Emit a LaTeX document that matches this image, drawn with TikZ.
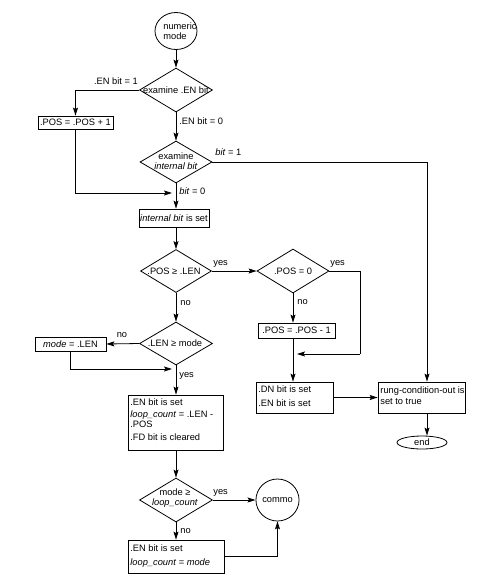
\documentclass[tikz,border=0pt]{standalone}
\usepackage{fontspec}
\setmainfont{Liberation Sans}
\usetikzlibrary{shapes.geometric,arrows.meta}
\begin{document}
\begin{tikzpicture}[x=1pt,y=-1pt,line width=0.8pt,
  every node/.style={font=\fontsize{9.3}{10}\selectfont, inner sep=0pt},
  box/.style={draw, rectangle},
  dia/.style={draw, diamond},
  rnd/.style={draw, ellipse},
  txt/.style={draw=none},
  lbl/.style={draw=none},
  arr/.style={-{Stealth[length=8pt,width=5pt,inset=1.5pt]}}
]
\useasboundingbox (0,0) rectangle (486,576);
\fill[white] (0,0) rectangle (486,576);

% nodes
\node[rnd, minimum width=42, minimum height=37] (start) at (176,31) {};
\node[txt, align=left, anchor=west] (startt) at (163,31) {numeric\\mode};

\node[dia, minimum width=73, minimum height=44] (d1) at (176,90) {};
\node[txt] (d1t) at (176,90) {examine .EN bit};

\node[box, minimum width=75, minimum height=13] (p1) at (75.5,122.5) {.POS = .POS + 1};

\node[dia, minimum width=72, minimum height=42] (d2) at (176,162) {};
\node[txt, align=center] (d2t) at (176,161) {examine\\\textit{internal bit}};

\node[box, minimum width=70, minimum height=18] (ib) at (174,218) {\textit{internal bit} is set};

\node[dia, minimum width=71, minimum height=43] (d3) at (176,271) {};
\node[txt] (d3t) at (174,271) {.POS ≥ .LEN};

\node[dia, minimum width=72, minimum height=44] (d4) at (293,271) {};
\node[txt] (d4t) at (293,271) {.POS = 0};

\node[box, minimum width=77, minimum height=15] (pm) at (296.5,330.5) {.POS = .POS - 1};

\node[box, minimum width=77, minimum height=31] (dn) at (294.5,397.5) {};
\node[txt, anchor=base west] (dn1) at (258,392) {.DN bit is set};
\node[txt, anchor=base west] (dn2) at (258,406.5) {.EN bit is set};

\node[box, minimum width=87, minimum height=31] (rung) at (421.5,397.5) {};
\node[txt, anchor=base west] (r1) at (380,393) {rung-condition-out is};
\node[txt, anchor=base west] (r2) at (380,404) {set to true};

\node[rnd, minimum width=50, minimum height=13] (endn) at (422,442.5) {end};

\node[dia, minimum width=73, minimum height=43] (d5) at (176,343.5) {};
\node[txt] (d5t) at (175,343.5) {.LEN ≥ mode};

\node[box, minimum width=71, minimum height=14] (ml) at (70.5,344) {\textit{mode} = .LEN};

\node[box, minimum width=95, minimum height=55] (en) at (175.5,422.5) {};
\node[txt, anchor=base west] (en1) at (130,405.5) {.EN bit is set};
\node[txt, anchor=base west] (en2) at (130,417) {\textit{loop\_count} = .LEN -};
\node[txt, anchor=base west] (en3) at (130,427.5) {.POS};
\node[txt, anchor=base west] (en4) at (130,440.5) {.FD bit is cleared};

\node[dia, minimum width=73, minimum height=44] (d6) at (176,500) {};
\node[txt, align=center] (d6t) at (175,498) {mode ≥\\\textit{loop\_count}};

\node[rnd, minimum width=43, minimum height=42] (commo) at (277.5,500) {commo};

\node[box, minimum width=96, minimum height=33] (eb) at (176,556.5) {};
\node[txt, anchor=base west] (eb1) at (130,551.5) {.EN bit is set};
\node[txt, anchor=base west] (eb2) at (130,565.5) {\textit{loop\_count} = \textit{mode}};

% coordinates
\coordinate (m1) at (172,193);
\coordinate (rc) at (427,162);
\coordinate (c4) at (360,271);
\coordinate (c5) at (360,354);
\coordinate (c6) at (297,354);
\coordinate (m2) at (172,369);

% connectors
\draw[arr] (start) -- (d1);
\draw[arr] (d1.west) -| (p1.north);
\node[lbl] (l1) at (116,81) {.EN bit = 1};
\draw[arr] (d1.south) -- (d2.north);
\node[lbl, anchor=west] (l2) at (179,121) {.EN bit = 0};
\draw[arr] (p1.south) |- (m1);
\draw[arr] (d2.south) -- (d2.south |- ib.north);
\node[lbl, anchor=west] (l3) at (179,191) {\textit{bit} = 0};
\draw (d2.east) -- (rc);
\draw[arr] (rc) -- (rc |- rung.north);
\node[lbl, anchor=west] (l4) at (215,152) {\textit{bit} = 1};
\draw[arr] (ib.south -| d3.north) -- (d3.north);
\draw[arr] (d3.east) -- (d4.west);
\node[lbl, anchor=west] (l5) at (213,264) {yes};
\draw (d4.east) -- (c4) -- (c5);
\draw[arr] (c5) -- (c6);
\node[lbl, anchor=west] (l6) at (330,264) {yes};
\draw[arr] (d4.south) -- (d4.south |- pm.north);
\node[lbl, anchor=west] (l7) at (297,302) {no};
\draw[arr] (pm.south -| d4.south) -- (d4.south |- dn.north);
\draw[arr] (dn.east) -- (rung.west);
\draw[arr] (rung.south -| rc) -- (rc |- endn.north);
\draw[arr] (d3.south) -- (d5.north);
\node[lbl, anchor=west] (l8) at (180,303) {no};
\draw[arr] (d5.west) -- (ml.east);
\node[lbl] (l9) at (122,335) {no};
\draw[arr] (ml.south) |- (m2);
\draw[arr] (d5.south) -- (d5.south |- en.north);
\node[lbl, anchor=west] (l10) at (179,376) {yes};
\draw[arr] (en.south -| d6.north) -- (d6.north);
\draw[arr] (d6.east) -- (commo.west);
\node[lbl, anchor=west] (l11) at (213,493) {yes};
\draw[arr] (d6.south) -- (d6.south |- eb.north);
\node[lbl, anchor=west] (l12) at (180,531) {no};
\draw[arr] (eb.east) -| (commo.south);
\end{tikzpicture}
\end{document}
